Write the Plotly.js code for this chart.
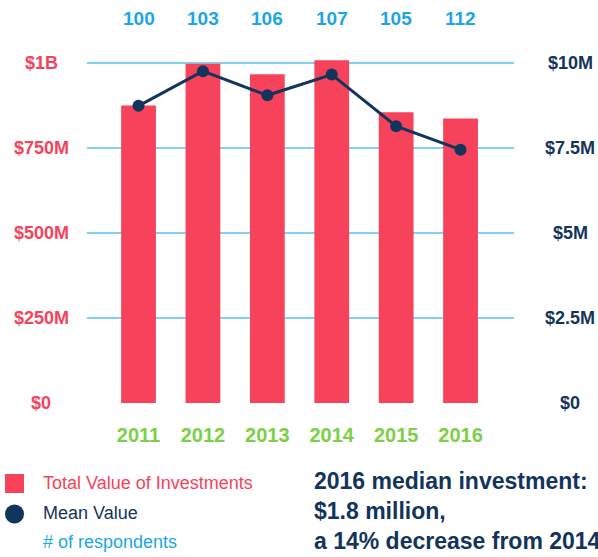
<!DOCTYPE html>
<html>
<head>
<meta charset="utf-8">
<script src="https://cdn.plot.ly/plotly-3.0.1.min.js"></script>
<style>
  html, body { margin: 0; padding: 0; background: #ffffff; }
  #chart { width: 598px; height: 557px; }
</style>
</head>
<body>
<div id="chart"></div>
<script>
// ---- data ----
const years = ['2011', '2012', '2013', '2014', '2015', '2016'];
const totalValue = [875, 998, 967, 1008, 855, 837];          // $ millions (left axis)
const meanValue = [8.74, 9.76, 9.05, 9.66, 8.14, 7.45];      // $ millions (right axis)
const respondents = [100, 103, 106, 107, 105, 112];
const leftTickVals = [0, 250, 500, 750, 1000];
const leftTickText = ['$0', '$250M', '$500M', '$750M', '$1B'];
const rightTickVals = [0, 2.5, 5, 7.5, 10];
const rightTickText = ['$0', '$2.5M', '$5M', '$7.5M', '$10M'];
const legendLabels = ['Total Value of Investments', 'Mean Value', '# of respondents'];
const noteLines = ['2016 median investment:', '$1.8 million,', 'a 14% decrease from 2014'];

// ---- style ----
const RED = '#f6435b';
const NAVY = '#13345b';
const BLUE = '#1ba6e8';
const GREEN = '#7dcf4b';
const GRID = '#82d0f3';
const FONT = 'Liberation Sans, Arial, sans-serif';

const W = 598, H = 557;
const M = { l: 87, r: 84, t: 29, b: 154 };
const PW = W - M.l - M.r, PH = H - M.t - M.b;
const px = v => (v - M.l) / PW;          // pixel x -> paper x
const py = v => (M.t + PH - v) / PH;     // pixel y -> paper y

const barTrace = {
  type: 'bar', x: years, y: totalValue, yaxis: 'y',
  marker: { color: RED }, width: 0.54, hoverinfo: 'skip', showlegend: false
};
const lineTrace = {
  type: 'scatter', mode: 'lines+markers', x: years, y: meanValue, yaxis: 'y2',
  line: { color: NAVY, width: 3 }, marker: { color: NAVY, size: 12 },
  hoverinfo: 'skip', showlegend: false, cliponaxis: false
};

const annotations = [];
leftTickVals.forEach((v, i) => annotations.push({
  xref: 'paper', yref: 'y', x: px(41), y: v, text: leftTickText[i],
  xanchor: 'center', yanchor: 'middle', showarrow: false,
  font: { family: FONT, size: 18, color: RED, weight: 700 }
}));
rightTickVals.forEach((v, i) => annotations.push({
  xref: 'paper', yref: 'y2', x: px(570), y: v, text: rightTickText[i],
  xanchor: 'center', yanchor: 'middle', showarrow: false,
  font: { family: FONT, size: 18, color: NAVY, weight: 700 }
}));
// respondents counts above each bar (category index on the x axis)
respondents.forEach((n, i) => annotations.push({
  xref: 'x', yref: 'paper', x: i, y: py(18.5), text: String(n),
  xanchor: 'center', yanchor: 'middle', showarrow: false,
  font: { family: FONT, size: 19, color: BLUE, weight: 700 }
}));
const legendColors = [RED, NAVY, BLUE];
const legendY = [482.5, 513, 541.5];
legendLabels.forEach((t, i) => annotations.push({
  xref: 'paper', yref: 'paper', x: px(41), y: py(legendY[i]), text: t,
  xanchor: 'left', yanchor: 'middle', showarrow: false,
  font: { family: FONT, size: 18, color: legendColors[i] }
}));
annotations.push({
  xref: 'paper', yref: 'paper', x: px(312), y: py(466), text: noteLines.join('<br>'),
  xanchor: 'left', yanchor: 'top', align: 'left', showarrow: false,
  font: { family: FONT, size: 23, color: NAVY, weight: 700 }
});

const shapes = [
  { type: 'rect', xref: 'paper', yref: 'paper', x0: px(5), x1: px(24), y0: py(474), y1: py(493),
    fillcolor: RED, line: { width: 0 } },
  { type: 'circle', xref: 'paper', yref: 'paper', x0: px(5), x1: px(24), y0: py(504.5), y1: py(523.5),
    fillcolor: NAVY, line: { width: 0 } }
];

const layout = {
  width: W, height: H, margin: M,
  paper_bgcolor: '#ffffff', plot_bgcolor: '#ffffff',
  font: { family: FONT },
  showlegend: false, bargap: 0.46,
  xaxis: {
    type: 'category', range: [-0.8, 5.83], showgrid: false, zeroline: false,
    showline: false, ticks: '', ticklabelstandoff: 18,
    tickfont: { family: FONT, size: 20, color: GREEN, weight: 700 }
  },
  yaxis: {
    range: [0, 1100], tickvals: leftTickVals, showticklabels: false,
    showgrid: true, gridcolor: GRID, gridwidth: 2, zeroline: false, showline: false, ticks: ''
  },
  yaxis2: {
    range: [0, 11], overlaying: 'y', side: 'right', tickvals: rightTickVals,
    showticklabels: false, showgrid: false, zeroline: false, showline: false, ticks: ''
  },
  annotations: annotations,
  shapes: shapes
};

Plotly.newPlot('chart', [barTrace, lineTrace], layout, { staticPlot: true, displayModeBar: false });
</script>
</body>
</html>
